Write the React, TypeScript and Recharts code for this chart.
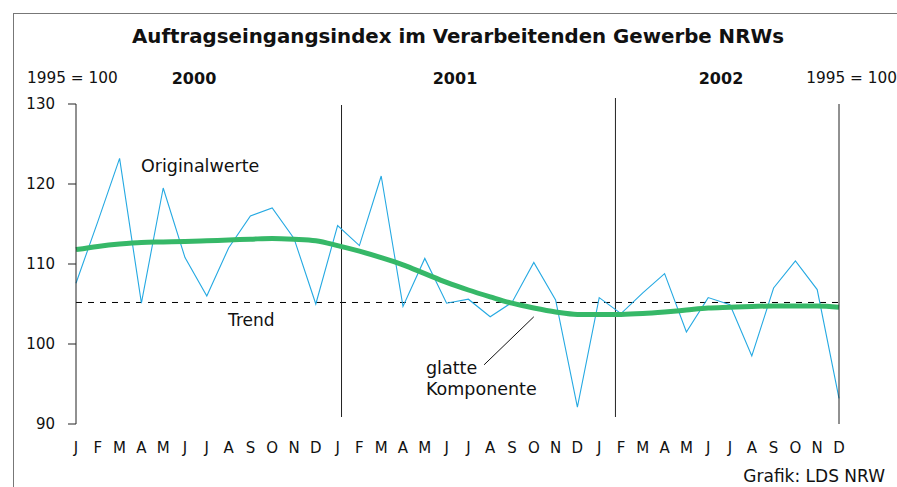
import { LineChart, Line, XAxis, YAxis, ReferenceLine } from "recharts";

const MONTHS = ["J", "F", "M", "A", "M", "J", "J", "A", "S", "O", "N", "D"];
const YEARS = ["2000", "2001", "2002"];
const Y_TICKS = [90, 100, 110, 120, 130];

// Originalwerte, Jan 2000 .. Dez 2002
const original = [
  107.6, 115.3, 123.2, 105.1, 119.5, 110.8, 106.0, 112.0, 116.0, 117.0, 113.2, 105.0,
  114.8, 112.3, 121.0, 104.7, 110.7, 105.1, 105.6, 103.4, 105.2, 110.2, 105.5, 92.1,
  105.8, 103.8, 106.4, 108.8, 101.5, 105.8, 104.9, 98.5, 107.0, 110.4, 106.8, 93.2,
];

// glatte Komponente
const smooth = [
  111.8, 112.2, 112.5, 112.7, 112.75, 112.8, 112.9, 113.0, 113.1, 113.2, 113.1, 112.9,
  112.3, 111.6, 110.8, 109.9, 108.8, 107.7, 106.75, 105.9, 105.1, 104.5, 104.0, 103.7,
  103.7, 103.7, 103.8, 104.0, 104.25, 104.5, 104.6, 104.7, 104.75, 104.75, 104.75, 104.6,
];

const TREND = 105.19;

const labels = YEARS.flatMap(() => MONTHS);
const data = original.map((v, i) => ({ i, orig: v, glatt: smooth[i] }));

const FONT = "'DejaVu Sans', sans-serif";

function Txt(props: {
  x: number;
  y: number;
  text: string;
  size?: number;
  bold?: boolean;
  anchor?: "start" | "middle" | "end";
}) {
  const { x, y, text, size = 15, bold, anchor = "start" } = props;
  const tx = anchor === "middle" ? "-50%" : anchor === "end" ? "-100%" : "0";
  return (
    <div
      style={{
        position: "absolute",
        left: x,
        top: y,
        transform: `translate(${tx}, -50%)`,
        fontSize: size,
        fontWeight: bold ? 700 : 400,
        lineHeight: 1,
        whiteSpace: "nowrap",
        color: "#111",
      }}
    >
      {text}
    </div>
  );
}

export default function App() {
  return (
    <div
      style={{
        position: "absolute",
        left: 0,
        top: 0,
        width: 897,
        height: 487,
        background: "#fff",
        fontFamily: FONT,
        overflow: "hidden",
      }}
    >
      {/* frame */}
      <div
        style={{
          position: "absolute",
          left: 13,
          top: 13,
          width: 900,
          height: 500,
          borderLeft: "1.5px solid #777",
          borderTop: "1.5px solid #777",
        }}
      />
      <LineChart
        width={897}
        height={487}
        data={data}
        margin={{ top: 104, right: 0, bottom: 0, left: 0 }}
        style={{ position: "absolute", left: 0, top: 0 }}
      >
        <XAxis
          dataKey="i"
          type="number"
          domain={[0, 35]}
          ticks={data.map((d) => d.i)}
          interval={0}
          tickFormatter={(i: number) => labels[i]}
          axisLine={false}
          tickLine={false}
          tickSize={0}
          tickMargin={18}
          height={63}
          tick={{ fill: "#111", fontSize: 15, fontFamily: FONT }}
        />
        <YAxis
          yAxisId="left"
          orientation="left"
          domain={[90, 130]}
          ticks={Y_TICKS}
          width={76}
          tickSize={8}
          tickMargin={13}
          axisLine={{ stroke: "#222" }}
          tickLine={{ stroke: "#222" }}
          tick={{ fill: "#111", fontSize: 15, fontFamily: FONT }}
        />
        <YAxis
          yAxisId="right"
          orientation="right"
          domain={[90, 130]}
          ticks={Y_TICKS}
          width={58}
          tickSize={8}
          tickMargin={17}
          axisLine={{ stroke: "#222" }}
          tickLine={{ stroke: "#222" }}
          tick={{ fill: "#111", fontSize: 15, fontFamily: FONT }}
        />
        <ReferenceLine
          yAxisId="left"
          y={TREND}
          stroke="#000"
          strokeDasharray="6 6"
        />
        <ReferenceLine
          yAxisId="left"
          ifOverflow="visible"
          segment={[
            { x: 12.18, y: 129.875 },
            { x: 12.18, y: 90.875 },
          ]}
          stroke="#222"
        />
        <ReferenceLine
          yAxisId="left"
          ifOverflow="visible"
          segment={[
            { x: 24.745, y: 130.75 },
            { x: 24.745, y: 90.875 },
          ]}
          stroke="#222"
        />
        {/* leader line to "glatte Komponente" */}
        <ReferenceLine
          yAxisId="left"
          ifOverflow="visible"
          segment={[
            { x: 18.72, y: 97.4 },
            { x: 21.0, y: 103.4 },
          ]}
          stroke="#111"
        />
        <Line
          yAxisId="left"
          type="linear"
          dataKey="orig"
          stroke="#25a9e2"
          strokeWidth={1.1}
          dot={false}
          isAnimationActive={false}
        />
        <Line
          yAxisId="left"
          type="monotone"
          dataKey="glatt"
          stroke="#36b868"
          strokeWidth={5}
          dot={false}
          isAnimationActive={false}
        />
      </LineChart>

      <Txt x={458} y={37} text="Auftragseingangsindex im Verarbeitenden Gewerbe NRWs" size={19.8} bold anchor="middle" />
      <Txt x={27} y={79} text="1995 = 100" size={15.3} />
      <Txt x={897} y={79} text="1995 = 100" size={15.3} anchor="end" />
      <Txt x={194} y={79} text={YEARS[0]} size={16} bold anchor="middle" />
      <Txt x={455} y={79} text={YEARS[1]} size={16} bold anchor="middle" />
      <Txt x={721} y={79} text={YEARS[2]} size={16} bold anchor="middle" />
      <Txt x={141} y={167} text="Originalwerte" size={17.5} />
      <Txt x={228} y={320} text="Trend" size={17} />
      <Txt x={426} y={369} text="glatte" size={17.5} />
      <Txt x={426} y={390} text="Komponente" size={17.5} />
      <Txt x={885} y={476} text="Grafik: LDS NRW" size={17} anchor="end" />
    </div>
  );
}
